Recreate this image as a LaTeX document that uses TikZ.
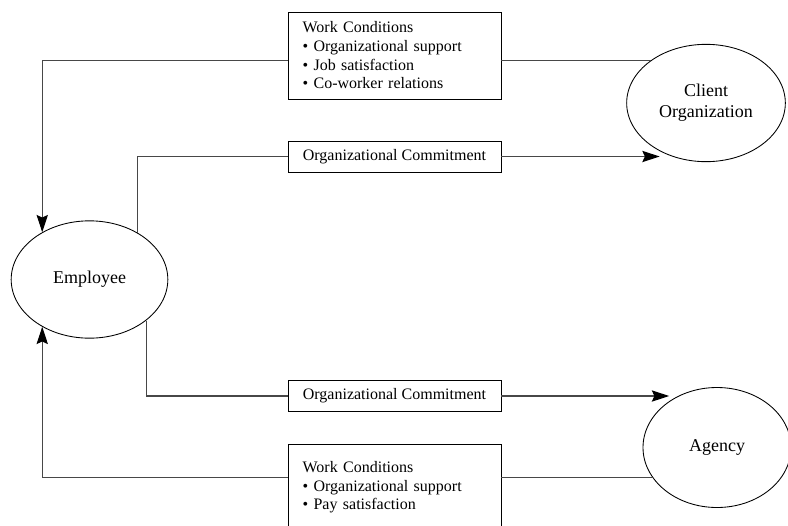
\documentclass[tikz,border=0pt]{standalone}
\usepackage{fontspec}
\setmainfont{Liberation Serif}
\usetikzlibrary{shapes,arrows.meta,positioning}

\begin{document}
\begin{tikzpicture}[
  x=0.75pt, y=-0.75pt,
  actor/.style={
    draw, ellipse, inner sep=0pt, line width=0.65pt,
    align=center, font=\fontsize{13.5}{16}\selectfont
  },
  box/.style={
    draw, rectangle, line width=0.7pt, inner xsep=11pt,
    text width=137.75pt, align=left, font=\fontsize{12}{14}\selectfont
  },
  cbox/.style={
    draw, rectangle, line width=0.7pt, inner sep=0pt,
    minimum width=159.75pt, minimum height=23.25pt, font=\fontsize{12}{14}\selectfont
  },
  line/.style={line width=0.8pt, draw=black!72},
  edge/.style={line, -{Stealth[length=13pt,width=8.5pt,inset=2pt,color=black]}}
]
\useasboundingbox (0,0) rectangle (788,525);
\clip (0,0) rectangle (788,525);

\node[actor, minimum width=117.5pt, minimum height=88pt] (emp) at (89.5,279.5) {Employee};
\node[actor, minimum width=119pt, minimum height=88pt]  (cli) at (706,103)    {Client\\Organization};
\node[actor, minimum width=111pt, minimum height=90pt]  (agy) at (717,447.5)  {Agency};

\node[box, minimum height=65.25pt] (wcA) at (394.5,55.5)  {Work Conditions\\
  \textbullet~Organizational support\\ \textbullet~Job satisfaction\\ \textbullet~Co-worker relations};
\node[cbox] (ocA) at (394.5,156.5) {Organizational Commitment};
\node[cbox] (ocB) at (394.5,396)   {Organizational Commitment};
\node[box, minimum height=65.25pt] (wcB) at (394.5,487.5) {Work Conditions\\
  \textbullet~Organizational support\\ \textbullet~Pay satisfaction};

% client -> employee
\draw[line] (cli.142) -- (cli.142 -| wcA.east);
\draw[edge] (wcA.west |- cli.142) -| (emp.135);
% employee -> client
\draw[line] (emp.44) |- (ocA.west);
\draw[edge] (ocA.east) -- (cli.226 |- ocA.east);
% employee -> agency
\draw[line] (emp.-36) |- (ocB.west);
\draw[edge] (ocB.east) -- (agy.136 |- ocB.east);
% agency -> employee
\draw[line] (agy.205) -- (agy.205 -| wcB.east);
\draw[edge] (wcB.west |- agy.205) -| (emp.225);

\end{tikzpicture}
\end{document}
